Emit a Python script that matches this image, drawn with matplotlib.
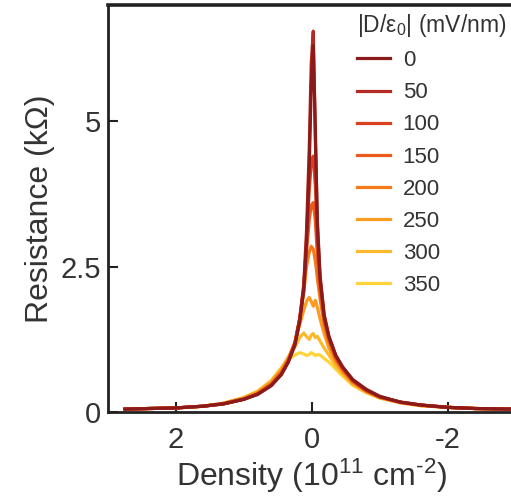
import matplotlib
matplotlib.use("Agg")
import matplotlib.pyplot as plt

plt.rcParams["font.family"] = ["Liberation Sans", "DejaVu Sans"]
plt.rcParams["mathtext.fontset"] = "custom"
plt.rcParams["mathtext.rm"] = "Liberation Sans"
plt.rcParams["mathtext.it"] = "Liberation Sans:italic"
plt.rcParams["mathtext.default"] = "regular"

# density axis (10^11 cm^-2), shared by all sweeps
density = [2.75, 2.4, 2.0, 1.6, 1.3, 1.0, 0.8, 0.6, 0.45, 0.35,
           0.25, 0.18, 0.12, 0.08, 0.04, 0.01, -0.02, -0.05, -0.08, -0.12,
           -0.18, -0.25, -0.35, -0.45, -0.6, -0.8, -1.0, -1.3, -1.6, -2.0,
           -2.4, -2.95]

displacement = ["0", "50", "100", "150", "200", "250", "300", "350"]

# resistance (kOhm) for each |D/eps0|
r_0 = [0.05, 0.06, 0.07, 0.10, 0.14, 0.22, 0.30, 0.45, 0.64, 0.85,
       1.15, 1.55, 2.1, 2.9, 4.2, 5.6, 6.3, 4.9, 3.2, 2.3,
       1.65, 1.3, 0.98, 0.78, 0.56, 0.39, 0.27, 0.17, 0.12, 0.08,
       0.06, 0.05]
r_50 = [0.05, 0.06, 0.07, 0.10, 0.14, 0.22, 0.31, 0.46, 0.65, 0.86,
        1.17, 1.6, 2.2, 3.1, 4.5, 6.0, 6.55, 4.7, 3.3, 2.35,
        1.68, 1.3, 0.97, 0.77, 0.55, 0.38, 0.26, 0.17, 0.12, 0.08,
        0.06, 0.05]
r_100 = [0.05, 0.06, 0.07, 0.10, 0.14, 0.22, 0.31, 0.46, 0.66, 0.87,
         1.18, 1.6, 2.15, 2.9, 3.8, 4.3, 4.4, 3.9, 3.0, 2.25,
         1.62, 1.27, 0.95, 0.76, 0.54, 0.37, 0.26, 0.17, 0.12, 0.08,
         0.06, 0.05]
r_150 = [0.05, 0.06, 0.07, 0.10, 0.14, 0.22, 0.31, 0.47, 0.67, 0.88,
         1.18, 1.6, 2.1, 2.75, 3.3, 3.55, 3.6, 3.3, 2.7, 2.1,
         1.58, 1.24, 0.93, 0.74, 0.53, 0.37, 0.26, 0.17, 0.12, 0.08,
         0.06, 0.05]
r_200 = [0.05, 0.06, 0.07, 0.10, 0.15, 0.23, 0.32, 0.49, 0.69, 0.90,
         1.2, 1.6, 2.05, 2.5, 2.75, 2.85, 2.8, 2.6, 2.3, 1.95,
         1.5, 1.2, 0.90, 0.72, 0.52, 0.36, 0.25, 0.17, 0.12, 0.08,
         0.06, 0.05]
r_250 = [0.05, 0.06, 0.07, 0.10, 0.15, 0.24, 0.34, 0.51, 0.72, 0.92,
         1.2, 1.5, 1.75, 1.9, 1.97, 1.9, 1.82, 1.92, 1.8, 1.6,
         1.35, 1.1, 0.86, 0.69, 0.50, 0.35, 0.25, 0.16, 0.11, 0.08,
         0.06, 0.05]
r_300 = [0.05, 0.06, 0.07, 0.10, 0.15, 0.25, 0.35, 0.53, 0.75, 0.94,
         1.12, 1.28, 1.36, 1.3, 1.25, 1.32, 1.35, 1.28, 1.3, 1.22,
         1.1, 0.98, 0.80, 0.66, 0.48, 0.34, 0.24, 0.16, 0.11, 0.08,
         0.06, 0.05]
r_350 = [0.05, 0.06, 0.07, 0.10, 0.15, 0.25, 0.36, 0.54, 0.76, 0.90,
         0.98, 1.02, 1.0, 0.97, 0.99, 1.02, 1.0, 0.97, 0.99, 0.98,
         0.92, 0.86, 0.74, 0.62, 0.46, 0.33, 0.24, 0.16, 0.11, 0.08,
         0.06, 0.05]

curves = [r_0, r_50, r_100, r_150, r_200, r_250, r_300, r_350]
colors = ["#8b1a1a", "#b52a22", "#d8401f", "#ec5a1c",
          "#f47a1a", "#f99c20", "#fdb92a", "#fed43a"]

fig = plt.figure(figsize=(5.11, 4.97), dpi=100)
ax = fig.add_axes([0.2114, 0.171, 0.798, 0.819])

# draw high field first so the low-field curves sit on top
handles = [None] * len(curves)
for i in reversed(range(len(curves))):
    handles[i], = ax.plot(density, curves[i], color=colors[i], lw=2.3,
                          label=displacement[i])

ax.set_xlim(3, -3)
ax.set_ylim(0, 7)
ax.set_xticks([2, 0, -2])
ax.set_xticklabels(["2", "0", "-2"])
ax.set_yticks([0, 2.5, 5])
ax.set_yticklabels(["0", "2.5", "5"])

for side in ["left", "bottom"]:
    ax.spines[side].set_linewidth(2)
    ax.spines[side].set_color("#222222")
ax.spines["top"].set_linewidth(2.6)
ax.spines["top"].set_color("#222222")
ax.spines["right"].set_visible(False)

ax.tick_params(direction="in", length=7, width=1.5, colors="#222222",
               labelsize=21, labelcolor="#333333")
ax.tick_params(axis="x", pad=10)
ax.tick_params(axis="y", pad=5)

ax.set_xlabel("Density (10$^{11}$ cm$^{\u20102}$)", fontsize=23,
              color="#333333", labelpad=2)
ax.set_ylabel("Resistance (k\u03a9)", fontsize=23, color="#333333",
              labelpad=4)

leg = ax.legend(handles=handles, title="|D/\u03b5$_0$| (mV/nm)",
                loc="upper left", bbox_to_anchor=(346 / 511, 1 - 1 / 497),
                bbox_transform=fig.transFigure, frameon=False, fontsize=16,
                title_fontsize=16.5, handlelength=1.5, handletextpad=0.55,
                labelspacing=0.5, borderpad=0, alignment="left")
for t in leg.get_texts():
    t.set_color("#333333")
leg.get_title().set_color("#333333")

fig.savefig("out.png", dpi=100)
